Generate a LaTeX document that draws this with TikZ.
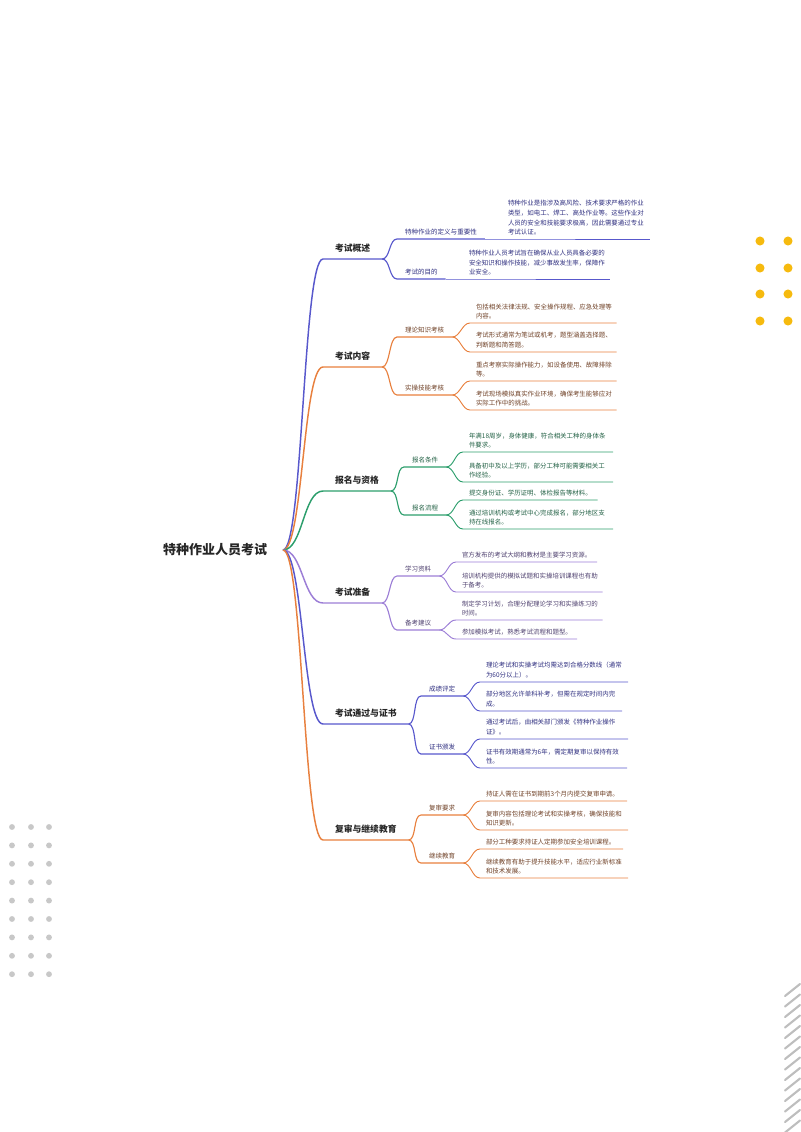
\documentclass[tikz,border=0pt]{standalone}
\usepackage{fontspec}
\setmainfont{Noto Sans CJK SC}
\usepackage{tikz}
\usetikzlibrary{positioning}
\definecolor{mmblue}{RGB}{88,88,204}
\definecolor{mmorange}{RGB}{232,128,62}
\definecolor{mmgreen}{RGB}{44,158,108}
\definecolor{mmpurple}{RGB}{156,126,214}
\definecolor{mmbluetext}{RGB}{48,48,128}
\definecolor{mmorangetext}{RGB}{112,66,40}
\definecolor{mmgreentext}{RGB}{36,98,70}
\definecolor{mmpurpletext}{RGB}{80,66,112}
\definecolor{dotyellow}{RGB}{246,186,14}
\definecolor{dotgray}{RGB}{200,200,200}
\definecolor{hatchgray}{RGB}{190,190,190}

\tikzset{
  rootnode/.style={font=\fontsize{9.75}{12}\selectfont\bfseries, text=black!85},
  topic/.style={anchor=south west, outer sep=0pt, inner xsep=9pt, inner ysep=5pt, font=\fontsize{6.6}{8}\selectfont\bfseries, text=black!85},
  subtopic/.style={anchor=south west, outer sep=0pt, inner xsep=6pt, inner ysep=2.8pt, font=\fontsize{4.9}{7.3}\selectfont},
  leaf/.style={anchor=south west, outer sep=0pt, inner xsep=4.5pt, inner ysep=2.8pt, align=left, font=\fontsize{4.85}{7.3}\selectfont, text width=#1},
  link1/.style={line width=1.1pt},
  link2/.style={line width=0.85pt},
  link3/.style={line width=0.7pt},
}

\begin{document}
\begin{tikzpicture}[x=0.75pt, y=-0.75pt]
\useasboundingbox (0,0) rectangle (800,1132);
% background dots and stripes
\foreach \yy in {241,268,294,321} {
  \fill[dotyellow] (760,\yy) circle (3.4pt);
  \fill[dotyellow] (788,\yy) circle (3.4pt);
}
\foreach \xx in {12,31,49} {
  \foreach \i in {0,...,8} {
    \fill[dotgray] ({\xx},{827+18.4*\i}) circle (2.2pt);
  }
}
\foreach \i in {0,...,13} {
  \draw[hatchgray, line width=1.6pt, line cap=round] ({785},{996+10.5*\i}) -- ({800},{984+10.5*\i});
}

% root
\node[rootnode] (exam) at (215,550) {特种作业人员考试};
\coordinate (hub) at (283,550);

% 考试概述
\node[topic] (b1) at (323,259) {考试概述};
\node[subtopic, text=mmbluetext] (b1a) at (397,239) {特种作业的定义与重要性};
\node[subtopic, text=mmbluetext] (b1b) at (397,279) {考试的目的};
\node[leaf=102pt, text=mmbluetext] (b1a1) at (502,239) {特种作业是指涉及高风险、技术要求严格的作业\\类型，如电工、焊工、高处作业等。这些作业对\\人员的安全和技能要求极高，因此需要通过专业\\考试认证。};
\node[leaf=101pt, text=mmbluetext] (b1b1) at (463,279) {特种作业人员考试旨在确保从业人员具备必要的\\安全知识和操作技能，减少事故发生率，保障作\\业安全。};
\draw[mmblue, link1] (hub) .. controls +(20,0) and +(-20,0) .. (b1.south west) -- (b1.south east);
\draw[mmblue, link2] (b1.south east) .. controls +(8,0) and +(-8,0) .. (b1a.south west) -- (b1a.south east);
\draw[mmblue, link2] (b1.south east) .. controls +(8,0) and +(-8,0) .. (b1b.south west) -- (b1b.south east);
\draw[mmblue, link3] (b1a.south east) -- (b1a1.south west) -- (b1a1.south east);
\draw[mmblue, link3] (b1b.south east) -- (b1b1.south west) -- (b1b1.south east);

% 考试内容
\node[topic] (b2) at (323,367) {考试内容};
\node[subtopic, text=mmorangetext] (b2a) at (397,337) {理论知识考核};
\node[subtopic, text=mmorangetext] (b2b) at (397,395) {实操技能考核};
\node[leaf=101pt, text=mmorangetext] (b2a1) at (470,323) {包括相关法律法规、安全操作规程、应急处理等\\内容。};
\node[leaf=101pt, text=mmorangetext] (b2a2) at (470,352) {考试形式通常为笔试或机考，题型涵盖选择题、\\判断题和简答题。};
\node[leaf=101pt, text=mmorangetext] (b2b1) at (470,381) {重点考察实际操作能力，如设备使用、故障排除\\等。};
\node[leaf=101pt, text=mmorangetext] (b2b2) at (470,410) {考试现场模拟真实作业环境，确保考生能够应对\\实际工作中的挑战。};
\draw[mmorange, link1] (hub) .. controls +(20,0) and +(-20,0) .. (b2.south west) -- (b2.south east);
\draw[mmorange, link2] (b2.south east) .. controls +(8,0) and +(-8,0) .. (b2a.south west) -- (b2a.south east);
\draw[mmorange, link2] (b2.south east) .. controls +(8,0) and +(-8,0) .. (b2b.south west) -- (b2b.south east);
\draw[mmorange, link3] (b2a.south east) .. controls +(8,0) and +(-8,0) .. (b2a1.south west) -- (b2a1.south east);
\draw[mmorange, link3] (b2a.south east) .. controls +(8,0) and +(-8,0) .. (b2a2.south west) -- (b2a2.south east);
\draw[mmorange, link3] (b2b.south east) .. controls +(8,0) and +(-8,0) .. (b2b1.south west) -- (b2b1.south east);
\draw[mmorange, link3] (b2b.south east) .. controls +(8,0) and +(-8,0) .. (b2b2.south west) -- (b2b2.south east);

% 报名与资格
\node[topic] (b3) at (323,491) {报名与资格};
\node[subtopic, text=mmgreentext] (b3a) at (404,467) {报名条件};
\node[subtopic, text=mmgreentext] (b3b) at (404,515) {报名流程};
\node[leaf=103.5pt, text=mmgreentext] (b3a1) at (463,452) {年满18周岁，身体健康，符合相关工种的身体条\\件要求。};
\node[leaf=103.5pt, text=mmgreentext] (b3a2) at (463,482) {具备初中及以上学历，部分工种可能需要相关工\\作经验。};
\node[leaf=92pt, text=mmgreentext] (b3b1) at (463,500) {提交身份证、学历证明、体检报告等材料。};
\node[leaf=103.5pt, text=mmgreentext] (b3b2) at (463,529) {通过培训机构或考试中心完成报名，部分地区支\\持在线报名。};
\draw[mmgreen, link1] (hub) .. controls +(20,0) and +(-20,0) .. (b3.south west) -- (b3.south east);
\draw[mmgreen, link2] (b3.south east) .. controls +(8,0) and +(-8,0) .. (b3a.south west) -- (b3a.south east);
\draw[mmgreen, link2] (b3.south east) .. controls +(8,0) and +(-8,0) .. (b3b.south west) -- (b3b.south east);
\draw[mmgreen, link3] (b3a.south east) .. controls +(8,0) and +(-8,0) .. (b3a1.south west) -- (b3a1.south east);
\draw[mmgreen, link3] (b3a.south east) .. controls +(8,0) and +(-8,0) .. (b3a2.south west) -- (b3a2.south east);
\draw[mmgreen, link3] (b3b.south east) .. controls +(8,0) and +(-8,0) .. (b3b1.south west) -- (b3b1.south east);
\draw[mmgreen, link3] (b3b.south east) .. controls +(8,0) and +(-8,0) .. (b3b2.south west) -- (b3b2.south east);

% 考试准备
\node[topic] (b4) at (323,603) {考试准备};
\node[subtopic, text=mmpurpletext] (b4a) at (397,576) {学习资料};
\node[subtopic, text=mmpurpletext] (b4b) at (397,630) {备考建议};
\node[leaf=96.75pt, text=mmpurpletext] (b4a1) at (456,562) {官方发布的考试大纲和教材是主要学习资源。};
\node[leaf=101pt, text=mmpurpletext] (b4a2) at (456,592) {培训机构提供的模拟试题和实操培训课程也有助\\于备考。};
\node[leaf=101pt, text=mmpurpletext] (b4b1) at (456,620) {制定学习计划，合理分配理论学习和实操练习的\\时间。};
\node[leaf=81.75pt, text=mmpurpletext] (b4b2) at (456,639) {参加模拟考试，熟悉考试流程和题型。};
\draw[mmpurple, link1] (hub) .. controls +(20,0) and +(-20,0) .. (b4.south west) -- (b4.south east);
\draw[mmpurple, link2] (b4.south east) .. controls +(8,0) and +(-8,0) .. (b4a.south west) -- (b4a.south east);
\draw[mmpurple, link2] (b4.south east) .. controls +(8,0) and +(-8,0) .. (b4b.south west) -- (b4b.south east);
\draw[mmpurple, link3] (b4a.south east) .. controls +(8,0) and +(-8,0) .. (b4a1.south west) -- (b4a1.south east);
\draw[mmpurple, link3] (b4a.south east) .. controls +(8,0) and +(-8,0) .. (b4a2.south west) -- (b4a2.south east);
\draw[mmpurple, link3] (b4b.south east) .. controls +(8,0) and +(-8,0) .. (b4b1.south west) -- (b4b1.south east);
\draw[mmpurple, link3] (b4b.south east) .. controls +(8,0) and +(-8,0) .. (b4b2.south west) -- (b4b2.south east);

% 考试通过与证书
\node[topic] (b5) at (323,724) {考试通过与证书};
\node[subtopic, text=mmbluetext] (b5a) at (421,696) {成绩评定};
\node[subtopic, text=mmbluetext] (b5b) at (421,754) {证书颁发};
\node[leaf=102pt, text=mmbluetext] (b5a1) at (480,682) {理论考试和实操考试均需达到合格分数线（通常\\为60分以上）。};
\node[leaf=97.5pt, text=mmbluetext] (b5a2) at (480,711) {部分地区允许单科补考，但需在规定时间内完\\成。};
\node[leaf=102pt, text=mmbluetext] (b5b1) at (480,739) {通过考试后，由相关部门颁发《特种作业操作\\证》。};
\node[leaf=101.25pt, text=mmbluetext] (b5b2) at (480,768) {证书有效期通常为6年，需定期复审以保持有效\\性。};
\draw[mmblue, link1] (hub) .. controls +(20,0) and +(-20,0) .. (b5.south west) -- (b5.south east);
\draw[mmblue, link2] (b5.south east) .. controls +(8,0) and +(-8,0) .. (b5a.south west) -- (b5a.south east);
\draw[mmblue, link2] (b5.south east) .. controls +(8,0) and +(-8,0) .. (b5b.south west) -- (b5b.south east);
\draw[mmblue, link3] (b5a.south east) .. controls +(8,0) and +(-8,0) .. (b5a1.south west) -- (b5a1.south east);
\draw[mmblue, link3] (b5a.south east) .. controls +(8,0) and +(-8,0) .. (b5a2.south west) -- (b5a2.south east);
\draw[mmblue, link3] (b5b.south east) .. controls +(8,0) and +(-8,0) .. (b5b1.south west) -- (b5b1.south east);
\draw[mmblue, link3] (b5b.south east) .. controls +(8,0) and +(-8,0) .. (b5b2.south west) -- (b5b2.south east);

% 复审与继续教育
\node[topic] (b6) at (323,840) {复审与继续教育};
\node[subtopic, text=mmorangetext] (b6a) at (421,815) {复审要求};
\node[subtopic, text=mmorangetext] (b6b) at (421,863) {继续教育};
\node[leaf=101.25pt, text=mmorangetext] (b6a1) at (480,801) {持证人需在证书到期前3个月内提交复审申请。};
\node[leaf=102pt, text=mmorangetext] (b6a2) at (480,830) {复审内容包括理论考试和实操考核，确保技能和\\知识更新。};
\node[leaf=98.25pt, text=mmorangetext] (b6b1) at (480,849) {部分工种要求持证人定期参加安全培训课程。};
\node[leaf=102pt, text=mmorangetext] (b6b2) at (480,878) {继续教育有助于提升技能水平，适应行业新标准\\和技术发展。};
\draw[mmorange, link1] (hub) .. controls +(20,0) and +(-20,0) .. (b6.south west) -- (b6.south east);
\draw[mmorange, link2] (b6.south east) .. controls +(8,0) and +(-8,0) .. (b6a.south west) -- (b6a.south east);
\draw[mmorange, link2] (b6.south east) .. controls +(8,0) and +(-8,0) .. (b6b.south west) -- (b6b.south east);
\draw[mmorange, link3] (b6a.south east) .. controls +(8,0) and +(-8,0) .. (b6a1.south west) -- (b6a1.south east);
\draw[mmorange, link3] (b6a.south east) .. controls +(8,0) and +(-8,0) .. (b6a2.south west) -- (b6a2.south east);
\draw[mmorange, link3] (b6b.south east) .. controls +(8,0) and +(-8,0) .. (b6b1.south west) -- (b6b1.south east);
\draw[mmorange, link3] (b6b.south east) .. controls +(8,0) and +(-8,0) .. (b6b2.south west) -- (b6b2.south east);
\end{tikzpicture}
\end{document}
